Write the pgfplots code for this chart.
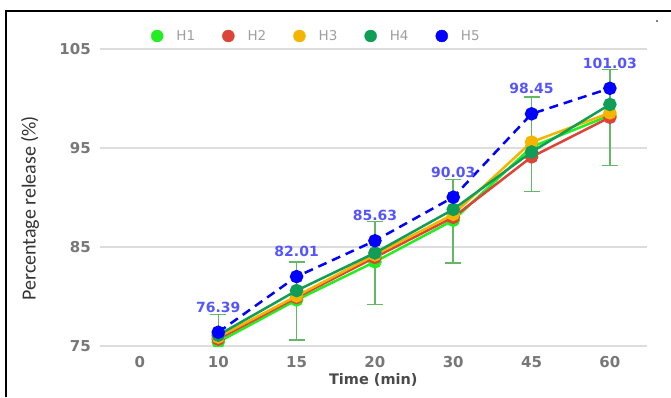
\documentclass[border=0pt]{standalone}
\usepackage{pgfplots}
\pgfplotsset{compat=1.18}
\usepackage{fontspec}
\setmainfont{DejaVu Sans}
\newfontfamily\carlito{Carlito}
\definecolor{hone}{HTML}{22EE22}
\definecolor{htwo}{HTML}{DB4437}
\definecolor{hthree}{HTML}{F4B400}
\definecolor{hfour}{HTML}{0F9D58}
\definecolor{hfive}{HTML}{0000FF}
\definecolor{errg}{HTML}{62B865}
\definecolor{lblc}{HTML}{5555FF}
\definecolor{gridc}{HTML}{DDDDDD}
\definecolor{tickc}{HTML}{777777}
\definecolor{xlabc}{HTML}{4A4A4A}
\definecolor{ylabc}{HTML}{333333}
\definecolor{legc}{HTML}{9E9E9E}
\begin{document}
\begin{tikzpicture}
\begin{axis}[
  at={(100pt,51pt)}, anchor=south west,
  scale only axis, width=546.7pt, height=297pt,
  xmin=-0.51, xmax=6.47, ymin=75, ymax=105,
  xtick={0,1,2,3,4,5,6},
  xticklabels={0,10,15,20,30,45,60},
  ytick={75,85,95,105},
  major tick length=0pt,
  axis line style={draw=none},
  ymajorgrids, xmajorgrids=false,
  grid style={draw=gridc, line width=1.1pt},
  /pgf/number format/assume math mode=true,
  ticklabel style={font=\fontsize{15}{18}\selectfont\bfseries, text=tickc, inner sep=0pt},
  yticklabel style={anchor=east, xshift=-9pt},
  xticklabel style={anchor=north, yshift=-10.5pt},
  xlabel={Time (min)},
  xlabel style={at={(axis description cs:0.5,0)}, anchor=north, yshift=-27pt, inner sep=0pt,
    font=\fontsize{14.5}{17}\selectfont\bfseries, text=xlabc},
  ylabel={Percentage release (\%)},
  ylabel style={at={(axis description cs:-0.128,0.4636)}, anchor=center, rotate=0, inner sep=0pt,
    font=\carlito\fontsize{20}{24}\selectfont, text=ylabc},
  clip marker paths=true,
  legend style={at={(axis description cs:0.0933,1.0438)}, anchor=west, draw=none, fill=none,
    inner sep=0pt, outer sep=0pt,
    font=\fontsize{13.5}{16}\selectfont, text=legc,
    nodes={inner sep=1pt},
    /tikz/every odd column/.append style={column sep=12pt},
    /tikz/every even column/.append style={column sep=26pt}},
  legend columns=5,
]
% error bars
\addplot[draw=none, mark=none, forget plot,
  error bars/.cd, y dir=both, y explicit,
  error bar style={draw=errg, solid, line width=1.5pt},
  error mark options={draw=errg, solid, rotate=90, mark size=8pt, line width=1.5pt}]
coordinates {(1,75.4) +- (0,2.8) (2,79.55) +- (0,3.95) (3,83.4) +- (0,4.2)
  (4,87.6) +- (0,4.2) (5,95.37) +- (0,4.77) (6,98.1) +- (0,4.85)};
% H1
\addplot[forget plot, color=hone, line width=2.5pt, mark=*, mark size=5.5pt, mark options={solid}]
coordinates {(1,75.4) (2,79.65) (3,83.5) (4,87.7) (5,95.1) (6,98.3)};
% H2
\addplot[forget plot, color=htwo, line width=2.5pt, mark=*, mark size=5.5pt, mark options={solid}]
coordinates {(1,75.7) (2,79.9) (3,83.95) (4,88.0) (5,94.1) (6,98.1)};
% H3
\addplot[forget plot, color=hthree, line width=2.5pt, mark=*, mark size=5.5pt, mark options={solid}]
coordinates {(1,75.9) (2,80.05) (3,84.2) (4,88.3) (5,95.6) (6,98.55)};
% H4
\addplot[forget plot, color=hfour, line width=2.5pt, mark=*, mark size=5.5pt, mark options={solid}]
coordinates {(1,76.1) (2,80.6) (3,84.4) (4,88.8) (5,94.6) (6,99.4)};
% H5
\addplot[forget plot, color=hfive, line width=2.5pt, dash pattern=on 9pt off 6pt,
  mark=*, mark size=5.5pt, mark options={solid},
  nodes near coords, point meta=explicit symbolic,
  every node near coord/.append style={anchor=center, yshift=25pt, text=lblc,
    font=\fontsize{14}{17}\selectfont\bfseries}]
coordinates {(1,76.39) [76.39] (2,82.01) [82.01] (3,85.63) [85.63] (4,90.03) [90.03]
  (5,98.45) [98.45] (6,101.03) [101.03]};
\addlegendimage{legend image code/.code={\fill[hone] (0pt,0pt) circle (6pt);}}
\addlegendentry{H1}
\addlegendimage{legend image code/.code={\fill[htwo] (0pt,0pt) circle (6pt);}}
\addlegendentry{H2}
\addlegendimage{legend image code/.code={\fill[hthree] (0pt,0pt) circle (6pt);}}
\addlegendentry{H3}
\addlegendimage{legend image code/.code={\fill[hfour] (0pt,0pt) circle (6pt);}}
\addlegendentry{H4}
\addlegendimage{legend image code/.code={\fill[hfive] (0pt,0pt) circle (6pt);}}
\addlegendentry{H5}
\end{axis}
\draw[black, line width=2.2pt] (6pt,0pt) -- (6pt,386pt) -- (671pt,386pt);
\fill[black] (657pt,376pt) circle (0.9pt);
\pgfresetboundingbox
\path[use as bounding box] (0pt,0pt) rectangle (671pt,397pt);
\end{tikzpicture}
\end{document}
